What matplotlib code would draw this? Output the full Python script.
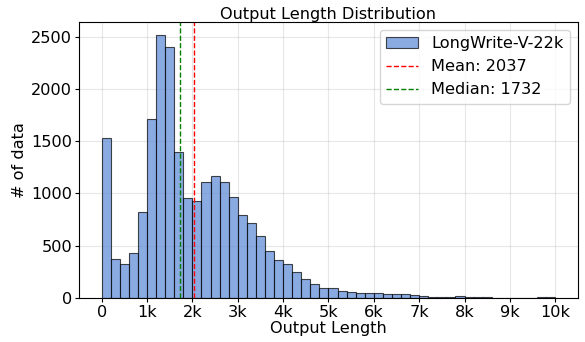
import numpy as np
import matplotlib.pyplot as plt
from matplotlib.ticker import FuncFormatter

# histogram of output lengths, 200-wide bins from 0 to 10000
bin_edges = np.arange(0, 10001, 200)
counts = [1535, 374, 323, 428, 821, 1708, 2516, 2404, 1395, 955,
          926, 1114, 1166, 1111, 964, 795, 715, 596, 450, 361,
          323, 243, 179, 134, 93, 95, 70, 55, 45, 45,
          42, 35, 35, 35, 25, 18, 12, 9, 7, 14,
          6, 4, 4, 3, 3, 3, 3, 3, 10, 4]
mean_len = 2037
median_len = 1732
label = 'LongWrite-V-22k'


def k_fmt(x, pos):
    if x == 0:
        return '0'
    return f'{int(x / 1000)}k'


fs = 11.6
fig, ax = plt.subplots(figsize=(5.85, 3.42), dpi=100)
ax.hist(bin_edges[:-1], bins=bin_edges, weights=counts, color='#5986d6',
        alpha=0.7, edgecolor='black', linewidth=0.8, label=label)
ax.axvline(mean_len, color='red', linestyle='--', linewidth=1, label=f'Mean: {mean_len}')
ax.axvline(median_len, color='green', linestyle='--', linewidth=1, label=f'Median: {median_len}')

ax.set_xticks(np.arange(0, 10001, 1000))
ax.xaxis.set_major_formatter(FuncFormatter(k_fmt))
ax.set_yticks(np.arange(0, 2501, 500))
ax.tick_params(labelsize=fs, length=3, pad=2)
ax.grid(True, alpha=0.3)
ax.set_axisbelow(True)

ax.set_title('Output Length Distribution', fontsize=fs, pad=2)
ax.set_xlabel('Output Length', fontsize=fs, labelpad=1)
ax.set_ylabel('# of data', fontsize=fs, labelpad=3)
ax.legend(loc='upper right', fontsize=fs)

plt.subplots_adjust(left=0.135, right=0.988, top=0.936, bottom=0.129)
plt.savefig('out.png')
